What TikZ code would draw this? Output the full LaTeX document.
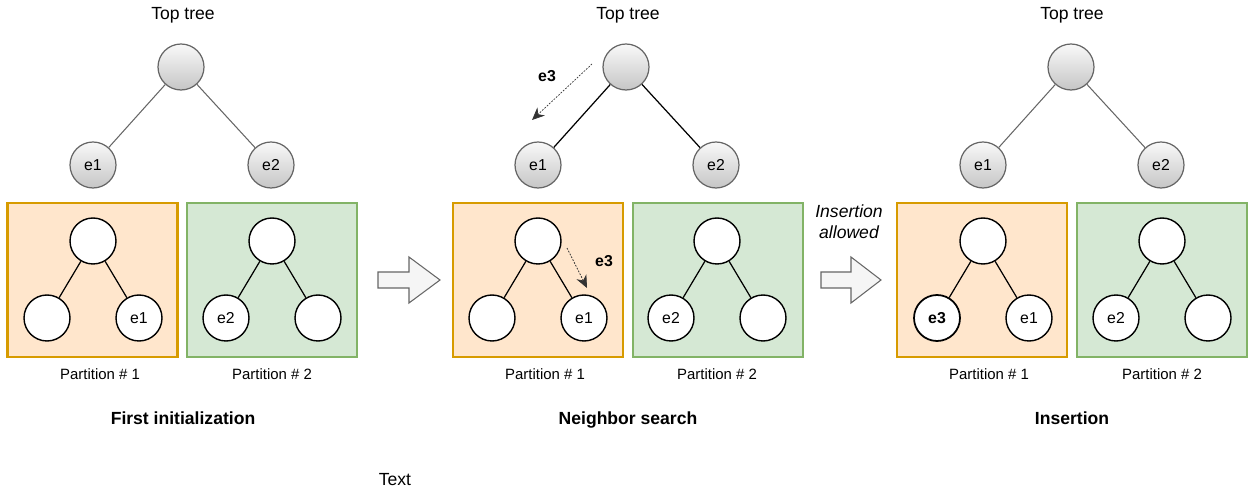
\documentclass[tikz,border=0pt]{standalone}
\usepackage{fontspec}
\setmainfont{Liberation Sans}
\usetikzlibrary{arrows.meta,positioning}
\definecolor{partAfill}{HTML}{FFE6CC}
\definecolor{partAdraw}{HTML}{D79B00}
\definecolor{partBfill}{HTML}{D5E8D4}
\definecolor{partBdraw}{HTML}{82B366}
\definecolor{edgegray}{HTML}{666666}
\tikzset{
  topnode/.style={circle, draw=edgegray, line width=0.7pt, top color=gray!5, bottom color=gray!45, minimum size=0.92cm, inner sep=0pt, font=\fontsize{9}{11}\selectfont},
  leaf/.style={circle, draw=black, line width=0.8pt, fill=white, minimum size=0.92cm, inner sep=0pt, font=\fontsize{9}{11}\selectfont},
  partA/.style={draw=partAdraw, fill=partAfill, line width=1.3pt, minimum width=3.4cm, minimum height=3.08cm},
  partB/.style={draw=partBdraw, fill=partBfill, line width=1.2pt, minimum width=3.4cm, minimum height=3.08cm},
  label/.style={font=\fontsize{10}{12}\selectfont},
  small/.style={font=\fontsize{8.5}{10}\selectfont},
  title/.style={font=\fontsize{10}{12}\selectfont\bfseries, text height=1.6ex, text depth=0.45ex},
  treeedge/.style={line width=0.6pt, draw=edgegray},
  partedge/.style={line width=0.7pt, draw=black},
  blockarrow/.style={draw=edgegray, fill=gray!8, line width=0.6pt},
  search/.style={dash pattern=on 1pt off 0.8pt, line width=0.4pt, draw=black!80, -{Stealth[length=2.5mm,width=2.2mm]}}
}
\begin{document}
\begin{tikzpicture}[x=0.02cm, y=-0.02cm]
  \useasboundingbox (0,0) rectangle (1248,493);

  % ---- first initialization ----
  \node[label] (t1) at (183,15) {Top tree};
  \node[topnode] (t1r) at (181,67) {};
  \node[topnode] (t1a) at (93,165) {e1};
  \node[topnode] (t1b) at (271,165) {e2};
  \draw[treeedge] (t1r) -- (t1a);
  \draw[treeedge] (t1r) -- (t1b);

  \node[partA] (p1a) at (92.5,280) {};
  \node[partB] (p1b) at (272,280) {};
  \node[leaf] (p1ar) at (93,241) {};
  \node[leaf] (p1al) at (47,318) {};
  \node[leaf] (p1aq) at (139,318) {e1};
  \node[leaf] (p1br) at (272,241) {};
  \node[leaf] (p1bl) at (226,318) {e2};
  \node[leaf] (p1bq) at (318,318) {};
  \draw[partedge] (p1ar) -- (p1al);
  \draw[partedge] (p1ar) -- (p1aq);
  \draw[partedge] (p1br) -- (p1bl);
  \draw[partedge] (p1br) -- (p1bq);
  \node[small] (l1a) at (100,374) {Partition \# 1};
  \node[small] (l1b) at (272,374) {Partition \# 2};
  \node[title] (s1) at (183,419) {First initialization};

  \draw[blockarrow] (378,272) -- (409,272) -- (409,257) -- (440,280)
    -- (409,303) -- (409,288) -- (378,288) -- cycle;

  % ---- neighbor search ----
  \node[label] (t2) at (628,15) {Top tree};
  \node[topnode] (t2r) at (626,67) {};
  \node[topnode] (t2a) at (538,165) {e1};
  \node[topnode] (t2b) at (716,165) {e2};
  \draw[partedge] (t2r) -- (t2a);
  \draw[partedge] (t2r) -- (t2b);
  \coordinate (e3from) at (592,64);
  \coordinate (e3to) at (532,120);
  \draw[search] (e3from) -- (e3to);
  \node[font=\fontsize{9}{11}\selectfont\bfseries] (e3top) at (547,76) {e3};

  \node[partA] (p2a) at (538,280) {};
  \node[partB] (p2b) at (718,280) {};
  \node[leaf] (p2ar) at (538,241) {};
  \node[leaf] (p2al) at (492,318) {};
  \node[leaf] (p2aq) at (584,318) {e1};
  \node[leaf] (p2br) at (717,241) {};
  \node[leaf] (p2bl) at (671,318) {e2};
  \node[leaf] (p2bq) at (763,318) {};
  \draw[partedge] (p2ar) -- (p2al);
  \draw[partedge] (p2ar) -- (p2aq);
  \draw[partedge] (p2br) -- (p2bl);
  \draw[partedge] (p2br) -- (p2bq);
  \coordinate (e3down) at (567,248);
  \coordinate (e3leaf) at (587,288);
  \draw[search] (e3down) -- (e3leaf);
  \node[font=\fontsize{9}{11}\selectfont\bfseries] (e3part) at (604,261) {e3};
  \node[small] (l2a) at (545,374) {Partition \# 1};
  \node[small] (l2b) at (717,374) {Partition \# 2};
  \node[title] (s2) at (628,419) {Neighbor search};

  \node[label, align=center, font=\fontsize{10}{12}\selectfont\itshape] (ok) at (849,222) {Insertion\\allowed};
  \draw[blockarrow] (821,272) -- (851,272) -- (851,257) -- (881,280)
    -- (851,303) -- (851,288) -- (821,288) -- cycle;

  % ---- insertion ----
  \node[label] (t3) at (1072,15) {Top tree};
  \node[topnode] (t3r) at (1071,67) {};
  \node[topnode] (t3a) at (983,165) {e1};
  \node[topnode] (t3b) at (1161,165) {e2};
  \draw[treeedge] (t3r) -- (t3a);
  \draw[treeedge] (t3r) -- (t3b);

  \node[partA] (p3a) at (982,280) {};
  \node[partB] (p3b) at (1162,280) {};
  \node[leaf] (p3ar) at (983,241) {};
  \node[leaf, line width=1pt, font=\fontsize{9}{11}\selectfont\bfseries] (p3al) at (937,318) {e3};
  \node[leaf] (p3aq) at (1029,318) {e1};
  \node[leaf] (p3br) at (1162,241) {};
  \node[leaf] (p3bl) at (1116,318) {e2};
  \node[leaf] (p3bq) at (1208,318) {};
  \draw[partedge] (p3ar) -- (p3al);
  \draw[partedge] (p3ar) -- (p3aq);
  \draw[partedge] (p3br) -- (p3bl);
  \draw[partedge] (p3br) -- (p3bq);
  \node[small] (l3a) at (989,374) {Partition \# 1};
  \node[small] (l3b) at (1162,374) {Partition \# 2};
  \node[title] (s3) at (1072,419) {Insertion};

  \node[label] (txt) at (395,480) {Text};
\end{tikzpicture}
\end{document}
